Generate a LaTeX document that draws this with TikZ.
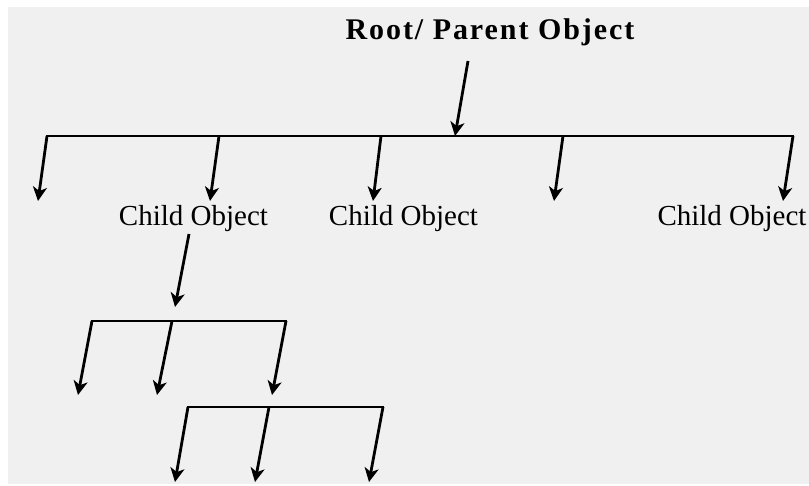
\documentclass[tikz,border=0pt]{standalone}
\usepackage{fontspec}
\setmainfont{Liberation Serif}
\newfontfamily\titlefont[LetterSpace=6.5]{Liberation Serif}
\usetikzlibrary{arrows.meta}

\begin{document}
\begin{tikzpicture}[x=1pt,y=-1pt,
  bar/.style={line width=1.9pt},
  link/.style={line width=2.8pt,-{Stealth[length=14pt,width=14pt,inset=4pt]}},
  objlabel/.style={anchor=base,inner sep=0pt,font=\fontsize{29}{30}\selectfont}]
\useasboundingbox (0,0) rectangle (809,486);
\fill[white] (0,0) rectangle (809,486);
\fill[black!6] (8,7) rectangle (809,484);

% root and the first row of children
\node[anchor=base,inner sep=0pt,font=\titlefont\bfseries\fontsize{30}{32}\selectfont] (root) at (490,40) {Root/ Parent Object};
\coordinate (rootfoot) at (468,61);
\coordinate (rootbar) at (455,136);
\draw[link] (rootfoot) -- (rootbar);
\coordinate (barL) at (46,136);
\coordinate (barR) at (794,136);
\draw[bar] (barL) -- (barR);
\foreach \xa/\xb [count=\i] in {47/38,219/210,381/373,563/554,793/783} {
  \coordinate (top\i) at (\xa,136);
  \coordinate (tip\i) at (\xb,201);
  \draw[link] (top\i) -- (tip\i);
}
\node[objlabel] (childA) at (193.5,226) {Child Object};
\node[objlabel] (childB) at (403.5,226) {Child Object};
\node[objlabel] (childC) at (732,226) {Child Object};

% second level under the first child
\coordinate (childfoot) at (189,234);
\coordinate (subtip) at (175,307);
\draw[link] (childfoot) -- (subtip);
\coordinate (subL) at (91,321);
\coordinate (subR) at (287,321);
\draw[bar] (subL) -- (subR);
\foreach \xa/\xb [count=\i] in {92/78,172/157,286/272} {
  \coordinate (stop\i) at (\xa,321);
  \coordinate (stip\i) at (\xb,395);
  \draw[link] (stop\i) -- (stip\i);
}

% third level
\coordinate (lowL) at (187,407);
\coordinate (lowR) at (384,407);
\draw[bar] (lowL) -- (lowR);
\foreach \xa/\xb [count=\i] in {188/175,269/255,383/369} {
  \coordinate (ltop\i) at (\xa,407);
  \coordinate (ltip\i) at (\xb,482);
  \draw[link] (ltop\i) -- (ltip\i);
}
\end{tikzpicture}
\end{document}
